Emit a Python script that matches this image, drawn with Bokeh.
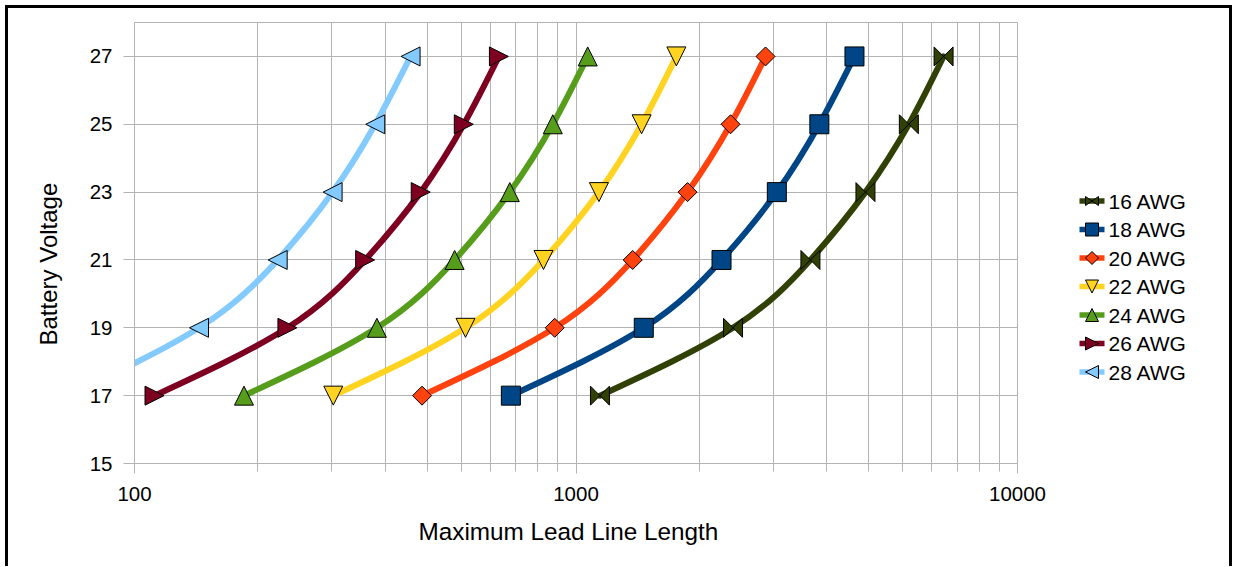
import math
import numpy as np
from bokeh.plotting import figure
from bokeh.models import Range1d, FixedTicker, NumeralTickFormatter, Title
from bokeh.layouts import row
from bokeh.core.properties import value
from bokeh.embed import file_html
from bokeh.resources import INLINE

# ---------------- data ----------------
VOLTS = [17, 19, 21, 23, 25, 27]
SERIES = ["16 AWG", "18 AWG", "20 AWG", "22 AWG", "24 AWG", "26 AWG", "28 AWG"]
AWG_16 = [1133, 2268, 3396, 4525, 5674, 6801]
AWG_18 = [712, 1424, 2136, 2850, 3558, 4273]
AWG_20 = [448, 895, 1344, 1789, 2239, 2687]
AWG_22 = [282, 562, 844, 1127, 1408, 1688]
AWG_24 = [177, 354, 531, 708, 886, 1063]
AWG_26 = [111, 222, 333, 445, 557, 669]
AWG_28 = [70, 140, 211, 281, 351, 422]
LENGTHS = [AWG_16, AWG_18, AWG_20, AWG_22, AWG_24, AWG_26, AWG_28]
COLORS = ["#314004", "#004586", "#ff420e", "#ffd320", "#579d1c", "#7e0021", "#83caff"]
MARKERS = ["bowtie", "square", "diamond", "down", "up", "right", "left"]
X_TICKS = [100, 1000, 10000]
Y_TICKS = [15, 17, 19, 21, 23, 25, 27]
X_LABEL = "Maximum Lead Line Length"
Y_LABEL = "Battery Voltage"

# ---------------- style / layout ----------------
FONT = "Liberation Sans"
GRID = "#b3b3b3"
X_MIN, X_MAX = 100, 10000
Y_MIN, Y_MAX = 15, 28
MAIN_W, LEG_W, H = 1052, 169, 558
ML, MR, MT, MB = 125, 43, 14, 103
FRAME_W = MAIN_W - ML - MR
FRAME_H = H - MT - MB
PX_DEC = FRAME_W / (math.log10(X_MAX) - math.log10(X_MIN))
PX_V = FRAME_H / (Y_MAX - Y_MIN)
MK = 9.5  # half size of plot markers in px

SHAPES = {
    "up": [(-1, -1), (1, -1), (0, 1)],
    "down": [(-1, 1), (1, 1), (0, -1)],
    "right": [(-1, -1), (-1, 1), (1, 0)],
    "left": [(1, -1), (1, 1), (-1, 0)],
    "bowtie": [(-1, -1), (-1, 1), (1, -1), (1, 1)],
}

minor_x = [d + k * 0.9 * d for d in X_TICKS[:-1] for k in range(1, 10)]

p = figure(width=MAIN_W, height=H, x_axis_type="log",
           x_range=Range1d(X_MIN, X_MAX), y_range=Range1d(Y_MIN, Y_MAX),
           output_backend="svg", toolbar_location=None, title=None,
           min_border_left=ML, min_border_right=MR, min_border_top=MT,
           min_border_bottom=MB)
p.outline_line_color = GRID
p.background_fill_color = "white"
p.border_fill_color = "white"

p.xaxis.ticker = FixedTicker(ticks=X_TICKS, minor_ticks=minor_x)
p.yaxis.ticker = FixedTicker(ticks=Y_TICKS, minor_ticks=[])
p.xaxis.formatter = NumeralTickFormatter(format="0")
for ax in (p.xaxis[0], p.yaxis[0]):
    ax.axis_line_color = GRID
    ax.major_tick_line_color = GRID
    ax.minor_tick_line_color = GRID
    ax.major_tick_in = 0
    ax.minor_tick_in = 0
    ax.major_label_text_font = FONT
    ax.major_label_text_font_size = "20.5px"
    ax.major_label_text_color = "black"
p.xaxis.major_tick_out = 10
p.xaxis.minor_tick_out = 8
p.xaxis.major_label_standoff = 13
p.yaxis.major_tick_out = 11
p.yaxis.minor_tick_out = 0
p.yaxis.major_label_standoff = 11

p.xgrid.grid_line_color = GRID
p.xgrid.minor_grid_line_color = GRID
p.ygrid.grid_line_color = GRID

p.add_layout(Title(text=X_LABEL, align="left", offset=284, standoff=24,
                   text_font=FONT, text_font_size="24.3px",
                   text_font_style="normal", text_color="black"), "below")
p.add_layout(Title(text=Y_LABEL, align="left", offset=118, standoff=49,
                   text_font=FONT, text_font_size="24px",
                   text_font_style="normal", text_color="black"), "left")


def plot_shape(xs, ys, shape):
    verts = SHAPES[shape]
    px = [[x * 10 ** (dx * MK / PX_DEC) for dx, dy in verts] for x in xs]
    py = [[y + dy * MK / PX_V for dx, dy in verts] for y in ys]
    return px, py


def natural_slopes(t, v):
    """End slopes of each segment of a natural cubic spline v(t)."""
    n = len(v)
    h = np.diff(t)
    A = np.zeros((n, n))
    b = np.zeros(n)
    A[0, 0] = A[-1, -1] = 1.0
    for i in range(1, n - 1):
        A[i, i - 1] = h[i - 1]
        A[i, i] = 2 * (h[i - 1] + h[i])
        A[i, i + 1] = h[i]
        b[i] = 6 * ((v[i + 1] - v[i]) / h[i] - (v[i] - v[i - 1]) / h[i - 1])
    M = np.linalg.solve(A, b)
    s = np.diff(v) / h
    d0 = s - h * (2 * M[:-1] + M[1:]) / 6
    d1 = s + h * (M[:-1] + 2 * M[1:]) / 6
    return h, d0, d1


def smooth_segments(xs, ys):
    """Cubic spline through the points on the log scale (chord-length
    parameter in scaled units), handed to p.bezier as control points."""
    U = np.log10(np.asarray(xs, float))
    Y = np.asarray(ys, float)
    t = np.concatenate([[0.0], np.cumsum(np.hypot(np.diff(U), np.diff(Y)))])
    h, du0, du1 = natural_slopes(t, U)
    _, dy0, dy1 = natural_slopes(t, Y)
    cU0 = U[:-1] + du0 * h / 3
    cY0 = Y[:-1] + dy0 * h / 3
    cU1 = U[1:] - du1 * h / 3
    cY1 = Y[1:] - dy1 * h / 3
    to_x = lambda a: list(10 ** a)
    return dict(x0=to_x(U[:-1]), y0=list(Y[:-1]), x1=to_x(U[1:]),
                y1=list(Y[1:]), cx0=to_x(cU0), cy0=list(cY0),
                cx1=to_x(cU1), cy1=list(cY1))


for name, xs, col, mk in zip(SERIES, LENGTHS, COLORS, MARKERS):
    p.bezier(**smooth_segments(xs, VOLTS), line_color=col, line_width=6,
             line_cap="round")
    if mk == "square":
        p.scatter(xs, VOLTS, marker="square", size=2 * MK, fill_color=col,
                  line_color="black", line_width=1)
    elif mk == "diamond":
        p.scatter(xs, VOLTS, marker="square", size=2 * MK / math.sqrt(2),
                  angle=45, angle_units="deg", fill_color=col,
                  line_color="black", line_width=1)
    else:
        px, py = plot_shape(xs, VOLTS, mk)
        p.patches(px, py, fill_color=col, line_color="black", line_width=1)

# ---------------- legend (own panel, pixel coordinates) ----------------
LEG_TOP, LEG_STEP = 192.5, 28.5
LX0, LX1, LTX = 19, 44, 48
LR = 6.5

leg = figure(width=LEG_W, height=H, x_range=Range1d(0, LEG_W),
             y_range=Range1d(MT + FRAME_H, MT), output_backend="svg",
             toolbar_location=None, title=None, min_border_left=0,
             min_border_right=0, min_border_top=MT, min_border_bottom=MB,
             x_axis_location=None, y_axis_location=None)
leg.outline_line_color = None
leg.xgrid.visible = False
leg.ygrid.visible = False
leg.background_fill_color = "white"
leg.border_fill_color = "white"

cys = [LEG_TOP + i * LEG_STEP for i in range(len(SERIES))]
cx = (LX0 + LX1) / 2
for name, col, mk, cy in zip(SERIES, COLORS, MARKERS, cys):
    leg.segment(x0=[LX0], y0=[cy], x1=[LX1], y1=[cy], line_color=col,
                line_width=5.5)
    if mk == "square":
        leg.scatter([cx], [cy], marker="square", size=2 * LR, fill_color=col,
                    line_color="black", line_width=1)
    elif mk == "diamond":
        leg.scatter([cx], [cy], marker="square", size=2 * LR / math.sqrt(2),
                    angle=45, angle_units="deg", fill_color=col,
                    line_color="black", line_width=1)
    else:
        ry = 4.5 if mk == "bowtie" else LR
        verts = SHAPES[mk]
        leg.patches([[cx + dx * LR for dx, dy in verts]],
                    [[cy - dy * ry for dx, dy in verts]],
                    fill_color=col, line_color="black", line_width=1)

leg.text(x=[LTX] * len(SERIES), y=cys, text=SERIES, text_font=value(FONT),
         text_font_size=value("21px"), text_baseline="middle",
         text_align="left", text_color="black")

layout = row(p, leg, margin=(5, 0, 0, 5),
             styles={"border-top": "3px solid black",
                     "border-left": "3px solid black",
                     "border-right": "3px solid black"})

open("out.html", "w").write(file_html(layout, INLINE))
